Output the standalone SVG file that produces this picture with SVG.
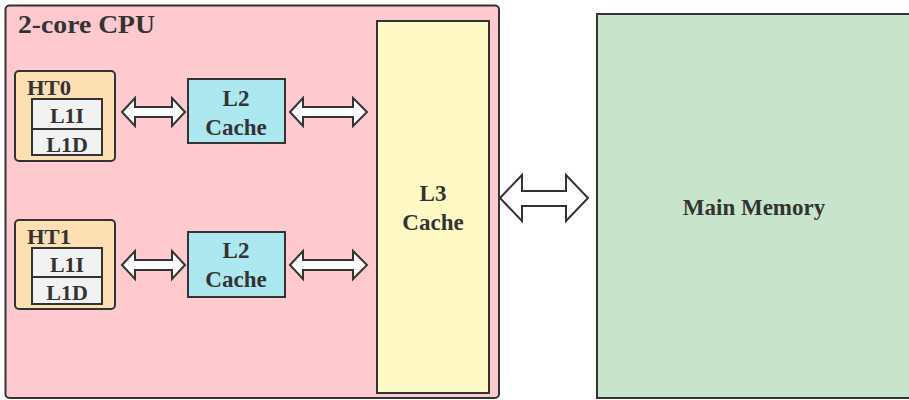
<svg xmlns="http://www.w3.org/2000/svg" width="909" height="400" viewBox="0 0 909 400">
<style>
text{font-family:"Liberation Serif","Times New Roman",serif;font-weight:bold;fill:#333}
.box{stroke:#333;stroke-width:2}
.ht{fill:#fddfb4}
.l1{fill:#f2f2f2}
.l2{fill:#ade8f0}
.arr{fill:#fff;stroke:#333;stroke-width:2;stroke-linejoin:miter}
.c{text-anchor:middle}
.t1{font-size:22px}
.t2{font-size:23px}
</style>
<rect width="909" height="400" fill="#fff"/>
<g id="cpu">
<rect class="box" x="5.5" y="5.5" width="493.5" height="392.5" rx="4" fill="#ffc9d0"/>
<text x="18" y="33" font-size="25.5" textLength="137" lengthAdjust="spacingAndGlyphs">2-core CPU</text>
</g>
<g id="ht0">
<rect class="box ht" x="15" y="71" width="100" height="90" rx="4"/>
<text x="27" y="95" font-size="20" textLength="44" lengthAdjust="spacingAndGlyphs">HT0</text>
<rect class="box l1" x="32" y="99" width="70" height="30"/>
<text class="c t1" x="67" y="123">L1I</text>
<rect class="box l1" x="32" y="129" width="70" height="26"/>
<text class="c t1" x="67" y="152">L1D</text>
</g>
<g id="ht1">
<rect class="box ht" x="15" y="220" width="100" height="89" rx="4"/>
<text x="27" y="244" font-size="20" textLength="44" lengthAdjust="spacingAndGlyphs">HT1</text>
<rect class="box l1" x="32" y="248" width="70" height="29"/>
<text class="c t1" x="67" y="272">L1I</text>
<rect class="box l1" x="32" y="277" width="70" height="27"/>
<text class="c t1" x="67" y="300">L1D</text>
</g>
<g id="l2a">
<rect class="box l2" x="188" y="79" width="97" height="64"/>
<text class="c t2" x="236" y="106">L2</text>
<text class="c t2" x="236" y="135">Cache</text>
</g>
<g id="l2b">
<rect class="box l2" x="188" y="232" width="97" height="65"/>
<text class="c t2" x="236" y="258">L2</text>
<text class="c t2" x="236" y="287">Cache</text>
</g>
<g id="l3">
<rect class="box" x="377" y="21" width="112" height="372" fill="#fff9c5"/>
<text class="c t2" x="433" y="201">L3</text>
<text class="c t2" x="433" y="230">Cache</text>
</g>
<g id="memory">
<rect class="box" x="597" y="14" width="320" height="384" fill="#c8e5cb"/>
<text class="c t2" x="754" y="215">Main Memory</text>
</g>
<g id="connectors">
<polygon class="arr" points="122,112 135,98 135,107 172,107 172,98 185,112 172,126 172,117 135,117 135,126"/>
<polygon class="arr" points="290,112 303,98 303,107 353,107 353,98 367,112 353,126 353,117 303,117 303,126"/>
<polygon class="arr" points="122,265 135,251 135,260 172,260 172,251 185,265 172,279 172,270 135,270 135,279"/>
<polygon class="arr" points="290,265 303,251 303,260 353,260 353,251 367,265 353,279 353,270 303,270 303,279"/>
<polygon class="arr" points="500,198 522,175 522,191 566,191 566,175 588,198 566,221 566,206 522,206 522,221"/>
</g>
</svg>
